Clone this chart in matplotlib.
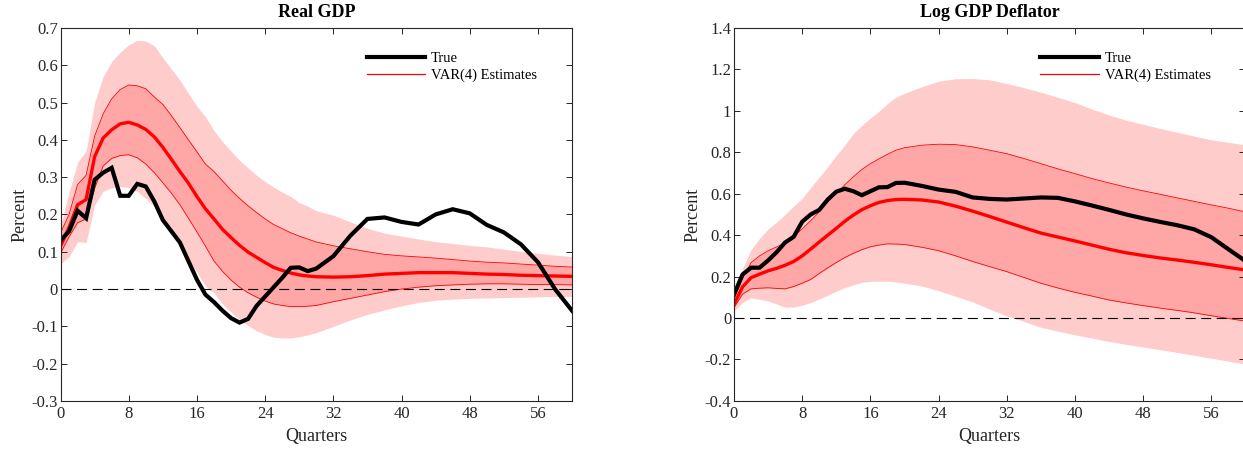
import numpy as np
import matplotlib
matplotlib.use("Agg")
import matplotlib.pyplot as plt
from matplotlib.ticker import FuncFormatter
from matplotlib.lines import Line2D

plt.rcParams['font.family'] = ['Liberation Serif', 'DejaVu Serif']
plt.rcParams['axes.unicode_minus'] = False

# ---- Real GDP (quarters 0..30 every quarter, then every 2) ----
q_gdp = list(range(0, 31)) + list(range(32, 61, 2))

gdp_true = [0.13, 0.155, 0.21, 0.19, 0.293, 0.312, 0.325, 0.25, 0.25, 0.282,
            0.275, 0.235, 0.185, 0.155, 0.125, 0.075, 0.025, -0.015, -0.035, -0.058,
            -0.078, -0.09, -0.08, -0.045, -0.02, 0.005, 0.03, 0.057, 0.058, 0.048,
            0.055, 0.088, 0.143, 0.188, 0.192, 0.18, 0.173, 0.2, 0.214, 0.203,
            0.172, 0.152, 0.12, 0.072, 0.0, -0.058]
gdp_mean = [0.115, 0.165, 0.226, 0.24, 0.355, 0.405, 0.427, 0.443, 0.447, 0.44,
            0.428, 0.408, 0.38, 0.348, 0.315, 0.284, 0.248, 0.215, 0.188, 0.16,
            0.138, 0.117, 0.099, 0.085, 0.071, 0.058, 0.05, 0.043, 0.038, 0.035,
            0.033, 0.032, 0.033, 0.036, 0.04, 0.042, 0.044, 0.044, 0.044, 0.042,
            0.04, 0.039, 0.037, 0.036, 0.035, 0.034]
gdp_hi68 = [0.15, 0.2, 0.28, 0.305, 0.41, 0.47, 0.51, 0.535, 0.547, 0.545,
            0.537, 0.515, 0.495, 0.465, 0.433, 0.4, 0.368, 0.335, 0.315, 0.29,
            0.265, 0.243, 0.223, 0.205, 0.188, 0.173, 0.162, 0.151, 0.142, 0.134,
            0.126, 0.116, 0.108, 0.1, 0.093, 0.089, 0.086, 0.083, 0.079, 0.075,
            0.072, 0.07, 0.067, 0.064, 0.061, 0.059]
gdp_lo68 = [0.096, 0.14, 0.178, 0.188, 0.27, 0.33, 0.35, 0.358, 0.36, 0.352,
            0.335, 0.312, 0.285, 0.257, 0.226, 0.19, 0.153, 0.115, 0.075, 0.047,
            0.024, 0.005, -0.01, -0.022, -0.032, -0.04, -0.044, -0.047, -0.047, -0.046,
            -0.044, -0.034, -0.025, -0.016, -0.007, 0.0, 0.005, 0.009, 0.011, 0.013,
            0.014, 0.014, 0.013, 0.012, 0.012, 0.011]
gdp_hi90 = [0.17, 0.26, 0.34, 0.37, 0.5, 0.57, 0.61, 0.635, 0.655, 0.667,
            0.665, 0.652, 0.62, 0.59, 0.56, 0.525, 0.49, 0.462, 0.425, 0.395,
            0.37, 0.345, 0.325, 0.305, 0.288, 0.273, 0.26, 0.248, 0.232, 0.222,
            0.21, 0.198, 0.18, 0.163, 0.15, 0.142, 0.134, 0.127, 0.122, 0.117,
            0.113, 0.107, 0.101, 0.096, 0.091, 0.087]
gdp_lo90 = [0.068, 0.087, 0.127, 0.125, 0.225, 0.262, 0.272, 0.275, 0.272, 0.262,
            0.243, 0.222, 0.188, 0.15, 0.115, 0.078, 0.045, 0.007, -0.01, -0.04,
            -0.062, -0.082, -0.098, -0.112, -0.122, -0.129, -0.131, -0.131, -0.128, -0.123,
            -0.117, -0.1, -0.083, -0.068, -0.056, -0.045, -0.036, -0.03, -0.027, -0.025,
            -0.024, -0.023, -0.022, -0.021, -0.02, -0.02]

# ---- Log GDP deflator (quarters 0..20 every quarter, then every 2) ----
q_defl = list(range(0, 21)) + list(range(22, 61, 2))

defl_true = [0.114, 0.21, 0.243, 0.243, 0.278, 0.318, 0.365, 0.392, 0.465, 0.5,
             0.522, 0.572, 0.61, 0.624, 0.612, 0.593, 0.612, 0.631, 0.632, 0.652,
             0.653, 0.638, 0.62, 0.609, 0.582, 0.575, 0.572, 0.577, 0.582, 0.58,
             0.563, 0.543, 0.522, 0.5, 0.481, 0.464, 0.448, 0.428, 0.39, 0.332, 0.275]
defl_mean = [0.066, 0.15, 0.195, 0.212, 0.228, 0.24, 0.255, 0.273, 0.3, 0.333,
             0.367, 0.4, 0.433, 0.467, 0.497, 0.523, 0.542, 0.558, 0.567, 0.572,
             0.573, 0.57, 0.56, 0.54, 0.516, 0.49, 0.463, 0.436, 0.41, 0.391,
             0.372, 0.352, 0.332, 0.315, 0.302, 0.29, 0.28, 0.269, 0.257, 0.244, 0.232]
defl_hi68 = [0.09, 0.19, 0.267, 0.3, 0.325, 0.343, 0.362, 0.393, 0.43, 0.47,
             0.512, 0.56, 0.6, 0.643, 0.682, 0.717, 0.745, 0.768, 0.79, 0.81,
             0.822, 0.834, 0.839, 0.837, 0.826, 0.81, 0.793, 0.77, 0.745, 0.72,
             0.697, 0.673, 0.652, 0.632, 0.614, 0.597, 0.58, 0.563, 0.546, 0.53, 0.512]
defl_lo68 = [0.05, 0.115, 0.141, 0.144, 0.146, 0.143, 0.141, 0.152, 0.168, 0.186,
             0.215, 0.242, 0.268, 0.292, 0.312, 0.33, 0.344, 0.352, 0.358, 0.357,
             0.355, 0.342, 0.325, 0.3, 0.273, 0.248, 0.224, 0.196, 0.168, 0.145,
             0.124, 0.106, 0.087, 0.073, 0.06, 0.048, 0.037, 0.025, 0.011, -0.002, -0.015]
defl_hi90 = [0.122, 0.24, 0.33, 0.385, 0.43, 0.463, 0.5, 0.54, 0.578, 0.63,
             0.68, 0.73, 0.785, 0.835, 0.89, 0.93, 0.965, 0.998, 1.035, 1.066,
             1.085, 1.116, 1.143, 1.155, 1.156, 1.15, 1.132, 1.112, 1.09, 1.065,
             1.04, 1.008, 0.98, 0.955, 0.935, 0.915, 0.897, 0.878, 0.86, 0.848, 0.836]
defl_lo90 = [0.034, 0.075, 0.098, 0.09, 0.082, 0.068, 0.052, 0.053, 0.062, 0.075,
             0.092, 0.11, 0.13, 0.147, 0.16, 0.172, 0.177, 0.178, 0.178, 0.175,
             0.168, 0.155, 0.132, 0.105, 0.078, 0.043, 0.01, -0.016, -0.045, -0.063,
             -0.081, -0.097, -0.113, -0.127, -0.14, -0.153, -0.166, -0.18, -0.194, -0.208, -0.223]

x_ticks = [0, 8, 16, 24, 32, 40, 48, 56]

OUTER = '#ffcccc'
INNER = '#ffa6a6'
AXCOL = '#262626'


def draw_panel(ax, q, true, mean, lo68, hi68, lo90, hi90, title, yticks):
    ax.fill_between(q, lo90, hi90, color=OUTER, linewidth=0)
    ax.fill_between(q, lo68, hi68, color=INNER, linewidth=0)
    ax.plot(q, hi68, color='red', lw=0.6)
    ax.plot(q, lo68, color='red', lw=0.6)
    ax.plot(q, mean, color='red', lw=2.4)
    ax.axhline(0, color='black', lw=0.8, dashes=(9, 5))
    ax.plot(q, true, color='black', lw=3.0, solid_joinstyle='miter')

    ax.set_xlim(0, 60)
    ax.set_ylim(yticks[0], yticks[-1])
    ax.set_xticks(x_ticks)
    ax.set_yticks(yticks)
    ax.yaxis.set_major_formatter(FuncFormatter(lambda v, p: '%g' % round(v, 2)))
    ax.tick_params(direction='in', length=4, width=0.7, colors=AXCOL,
                   labelsize=12, top=True, right=True, pad=2)
    ax.tick_params(axis='x', pad=4)
    for s in ax.spines.values():
        s.set_color(AXCOL)
        s.set_linewidth(0.8)
    ax.set_title(title, fontsize=13, fontweight='bold', pad=8)
    ax.set_xlabel('Quarters', fontsize=13, color=AXCOL, labelpad=4)
    ax.set_ylabel('Percent', fontsize=13, color=AXCOL, labelpad=2)

    handles = [Line2D([], [], color='black', lw=3.0),
               Line2D([], [], color='red', lw=0.9)]
    ax.legend(handles, ['True', 'VAR(4) Estimates'], loc='upper left',
              bbox_to_anchor=(0.599, 0.937), frameon=False, fontsize=10.5,
              handlelength=4.0, handletextpad=0.4, borderpad=0,
              borderaxespad=0, labelspacing=0.25)


fig = plt.figure(figsize=(12.43, 4.51), dpi=100)
ax1 = fig.add_axes([0.0487, 0.111, 0.4115, 0.827])
ax2 = fig.add_axes([0.5905, 0.111, 0.4115, 0.827])

draw_panel(ax1, q_gdp, gdp_true, gdp_mean, gdp_lo68, gdp_hi68, gdp_lo90, gdp_hi90,
           'Real GDP', np.round(np.arange(-0.3, 0.71, 0.1), 2))
draw_panel(ax2, q_defl, defl_true, defl_mean, defl_lo68, defl_hi68, defl_lo90, defl_hi90,
           'Log GDP Deflator', np.round(np.arange(-0.4, 1.41, 0.2), 2))

fig.savefig('out.png', dpi=100)
